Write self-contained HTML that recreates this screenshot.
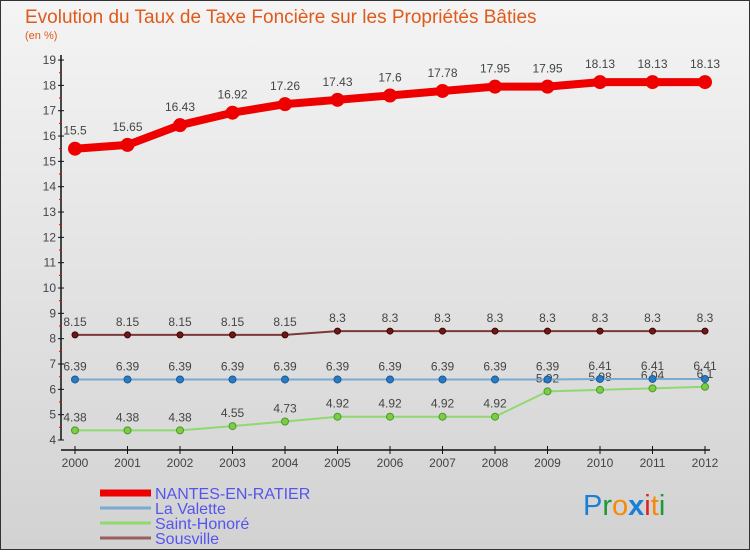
<!DOCTYPE html>
<html><head><meta charset="utf-8"><style>
body{margin:0;width:750px;height:550px;overflow:hidden;font-family:"Liberation Sans",sans-serif}
svg text{font-family:"Liberation Sans",sans-serif}
</style></head><body>
<svg width="750" height="550">
<defs><linearGradient id="bg" x1="0" y1="0" x2="0" y2="1"><stop offset="0" stop-color="#f4f4f4"/><stop offset="1" stop-color="#d2d2d2"/></linearGradient></defs>
<rect x="0.5" y="0.5" width="749" height="549" fill="url(#bg)" stroke="#333"/>
<text x="25" y="23" font-size="19" fill="#e05a1a">Evolution du Taux de Taxe Foncière sur les Propriétés Bâties</text>
<text x="25" y="39" font-size="11" fill="#e05a1a">(en %)</text>
<g id="axes"></g><g id="series"></g><g id="legend"></g>
<text x="583" y="515" font-size="29"><tspan fill="#1a7fd6">P</tspan><tspan fill="#1a9a3a">r</tspan><tspan fill="#f58a0a">o</tspan><tspan fill="#1a7fd6" font-weight="bold">x</tspan><tspan fill="#e02020">i</tspan><tspan fill="#f58a0a">t</tspan><tspan fill="#1a9a3a">i</tspan></text>
</svg>
<script>
const years=[2000,2001,2002,2003,2004,2005,2006,2007,2008,2009,2010,2011,2012];
const nantes=[15.5,15.65,16.43,16.92,17.26,17.43,17.6,17.78,17.95,17.95,18.13,18.13,18.13];
const valette=[6.39,6.39,6.39,6.39,6.39,6.39,6.39,6.39,6.39,6.39,6.41,6.41,6.41];
const honore=[4.38,4.38,4.38,4.55,4.73,4.92,4.92,4.92,4.92,5.92,5.98,6.04,6.1];
const sousville=[8.15,8.15,8.15,8.15,8.15,8.3,8.3,8.3,8.3,8.3,8.3,8.3,8.3];
const yTicks=[4,5,6,7,8,9,10,11,12,13,14,15,16,17,18,19];
const NS="http://www.w3.org/2000/svg";
const X=i=>75+i*52.5, Y=v=>440-(v-4)*25.33;
function mk(t,a,p){const e=document.createElementNS(NS,t);for(const k in a)e.setAttribute(k,a[k]);p.appendChild(e);return e;}
const ax=document.getElementById('axes');
let e=mk('line',{x1:61,y1:55,x2:61,y2:440,stroke:'#111','stroke-width':1.5},ax);

e=mk('line',{x1:61,y1:450,x2:710,y2:450,stroke:'#111','stroke-width':1.5},ax);

yTicks.forEach(v=>{mk('line',{x1:58,y1:Y(v),x2:64,y2:Y(v),stroke:'#111'},ax);
 if(v<19)mk('line',{x1:59,y1:Y(v+0.5),x2:62,y2:Y(v+0.5),stroke:'#e00'},ax);
 const t=mk('text',{x:56,y:Y(v)+4,'font-size':12,'text-anchor':'end',fill:'#444'},ax);t.textContent=v;
 });
years.forEach((y,i)=>{mk('line',{x1:X(i),y1:446,x2:X(i),y2:454,stroke:'#111'},ax);
 const t=mk('text',{x:X(i),y:467,'font-size':12,'text-anchor':'middle',fill:'#444'},ax);t.textContent=y;
 });
const sg=document.getElementById('series');
function series(name,vals,col,dot,w,r,stroke){
 const g=mk('g',{},sg);
 mk('polyline',{points:vals.map((v,i)=>X(i)+','+Y(v)).join(' '),fill:'none',stroke:col,'stroke-width':w,'stroke-linejoin':'round'},g);
 vals.forEach((v,i)=>{const c=mk('circle',{cx:X(i),cy:Y(v),r:r,fill:dot,stroke:stroke,'stroke-width':1},g);
  
  const t=mk('text',{x:X(i),y:Y(v)-(w>4?14:9),'font-size':12,'text-anchor':'middle',fill:'#444'},g);t.textContent=v;
  });
}
series('series-saint-honore',honore,'#90d870','#7ccc44',2,3.5,'#4a9a2a');
series('series-la-valette',valette,'#7aaad0','#2a7ac0',2,3.5,'#1a5a9a');
series('series-sousville',sousville,'#7a3a3a','#6a1a1a',2,3,'#400');
series('series-nantes',nantes,'#ee0000','#ee0000',8,6.5,'#ee0000');
const lg=document.getElementById('legend');
[['NANTES-EN-RATIER','#ee0000',7],['La Valette','#7aaad0',3],['Saint-Honoré','#90d870',3],['Sousville','#9a6060',3]].forEach((l,i)=>{
 const yy=493+i*15;
 const g=mk('g',{},lg);
 mk('line',{x1:100,y1:yy,x2:151,y2:yy,stroke:l[1],'stroke-width':l[2]},g);
 const t=mk('text',{x:155,y:yy+6,'font-size':16,fill:'#5555ee'},g);t.textContent=l[0];});
</script>
</body></html>
